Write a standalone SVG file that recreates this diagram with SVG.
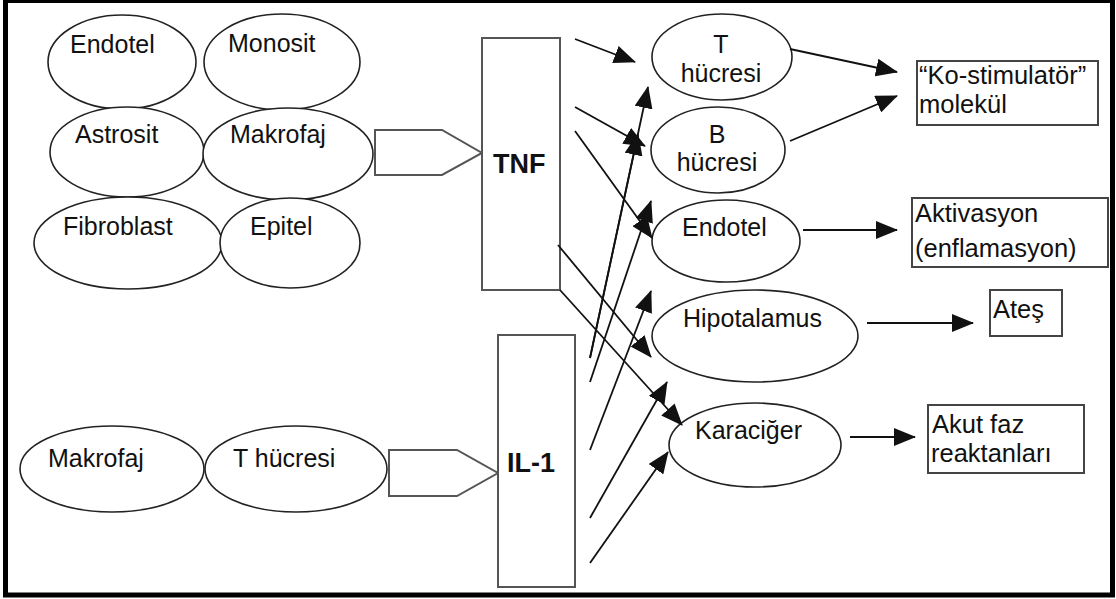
<svg xmlns="http://www.w3.org/2000/svg" width="1116" height="599" viewBox="0 0 1116 599">
<defs>
<marker id="ah" markerUnits="userSpaceOnUse" markerWidth="22" markerHeight="18" refX="21" refY="9" orient="auto">
<path d="M0,0 L22,9 L0,18 Z" fill="#111"/>
</marker>
<style>
.lbl{font-family:"Liberation Sans",Arial,sans-serif;font-size:25px;fill:#111}
.box{font-family:"Liberation Sans",Arial,sans-serif;font-size:25.5px;fill:#111}
.big{font-family:"Liberation Sans",Arial,sans-serif;font-size:27px;font-weight:bold;fill:#111}
.el{fill:#fff;stroke:#222;stroke-width:1.6}
.blk{fill:#fff;stroke:#555;stroke-width:2}
.tb{fill:#fff;stroke:#444;stroke-width:2}
.cn{fill:none;stroke:#111;stroke-width:1.8;marker-end:url(#ah)}
</style>
</defs>
<rect x="0" y="0" width="1116" height="599" fill="#fff"/>
<rect x="5.5" y="0.5" width="1107" height="594.5" fill="none" stroke="#000" stroke-width="5"/>

<g id="src-endotel"><ellipse class="el" cx="122" cy="62" rx="74" ry="47"/><text class="lbl" x="70" y="53">Endotel</text></g>
<g id="src-monosit"><ellipse class="el" cx="282" cy="62" rx="78" ry="48"/><text class="lbl" x="228" y="52">Monosit</text></g>
<g id="src-astrosit"><ellipse class="el" cx="127" cy="152" rx="77" ry="45"/><text class="lbl" x="75" y="143">Astrosit</text></g>
<g id="src-makrofaj"><ellipse class="el" cx="288" cy="154" rx="85" ry="46"/><text class="lbl" x="230" y="143">Makrofaj</text></g>
<g id="src-fibroblast"><ellipse class="el" cx="128" cy="243" rx="94" ry="46"/><text class="lbl" x="63" y="235">Fibroblast</text></g>
<g id="src-epitel"><ellipse class="el" cx="290" cy="243" rx="70" ry="45"/><text class="lbl" x="250" y="235">Epitel</text></g>

<g id="src-makrofaj2"><ellipse class="el" cx="112" cy="469" rx="92" ry="43"/><text class="lbl" x="48" y="467">Makrofaj</text></g>
<g id="src-thucresi"><ellipse class="el" cx="296" cy="469" rx="91" ry="43"/><text class="lbl" x="233" y="467">T hücresi</text></g>

<g id="tnf-arrow"><path class="blk" d="M375,130 L442,130 L482,153 L442,175 L375,175 Z"/></g>
<g id="tnf"><rect class="blk" x="482" y="38" width="78" height="252"/><text class="big" x="493" y="173">TNF</text></g>
<g id="il1-arrow"><path class="blk" d="M389,450 L457,450 L498,473 L457,496 L389,496 Z"/></g>
<g id="il1"><rect class="blk" x="498" y="335" width="77" height="252"/><text class="big" x="507" y="472" font-size="28">IL-1</text></g>

<g id="t-hucresi"><ellipse class="el" cx="722" cy="57" rx="70" ry="43"/><text class="lbl" x="721" y="53" text-anchor="middle">T</text><text class="lbl" x="721" y="82" text-anchor="middle">hücresi</text></g>
<g id="b-hucresi"><ellipse class="el" cx="718" cy="150" rx="67" ry="43"/><text class="lbl" x="717" y="143" text-anchor="middle">B</text><text class="lbl" x="717" y="171" text-anchor="middle">hücresi</text></g>
<g id="endotel"><ellipse class="el" cx="726" cy="241" rx="74" ry="41"/><text class="lbl" x="682" y="236">Endotel</text></g>
<g id="hipotalamus"><ellipse class="el" cx="755" cy="336" rx="103" ry="46"/><text class="lbl" x="683" y="327">Hipotalamus</text></g>
<g id="karaciger"><ellipse class="el" cx="755" cy="445" rx="86" ry="42"/><text class="lbl" x="695" y="439">Karaciğer</text></g>

<g id="kostim"><rect class="tb" x="917" y="61" width="181" height="64"/><text class="box" x="919" y="84">“Ko-stimulatör”</text><text class="box" x="919" y="113">molekül</text></g>
<g id="aktivasyon"><rect class="tb" x="912" y="198" width="196" height="69"/><text class="box" x="915" y="222">Aktivasyon</text><text class="box" x="915" y="257">(enflamasyon)</text></g>
<g id="ates"><rect class="tb" x="990" y="290" width="72" height="46"/><text class="box" x="993" y="318">Ateş</text></g>
<g id="akut"><rect class="tb" x="928" y="405" width="156" height="68"/><text class="box" x="932" y="433">Akut faz</text><text class="box" x="931" y="462">reaktanları</text></g>

<g id="connectors">
<path class="cn" d="M575,39 L635,62"/>
<path class="cn" d="M575,107 L645,146"/>
<path class="cn" d="M575,131 L652,238"/>
<path class="cn" d="M558,245 L651,357"/>
<path class="cn" d="M560,290 L682,425"/>
<path class="cn" d="M590,358 L648,87"/>
<path class="cn" d="M590,358 L638,134"/>
<path class="cn" d="M590,382 L651,201"/>
<path class="cn" d="M590,450 L651,291"/>
<path class="cn" d="M590,518 L667,382"/>
<path class="cn" d="M590,563 L668,452"/>
<path class="cn" d="M790,49 L897,72"/>
<path class="cn" d="M790,141 L897,96"/>
<path class="cn" d="M803,230 L897,230"/>
<path class="cn" d="M867,323 L973,323"/>
<path class="cn" d="M850,437 L915,437"/>
</g>
</svg>
